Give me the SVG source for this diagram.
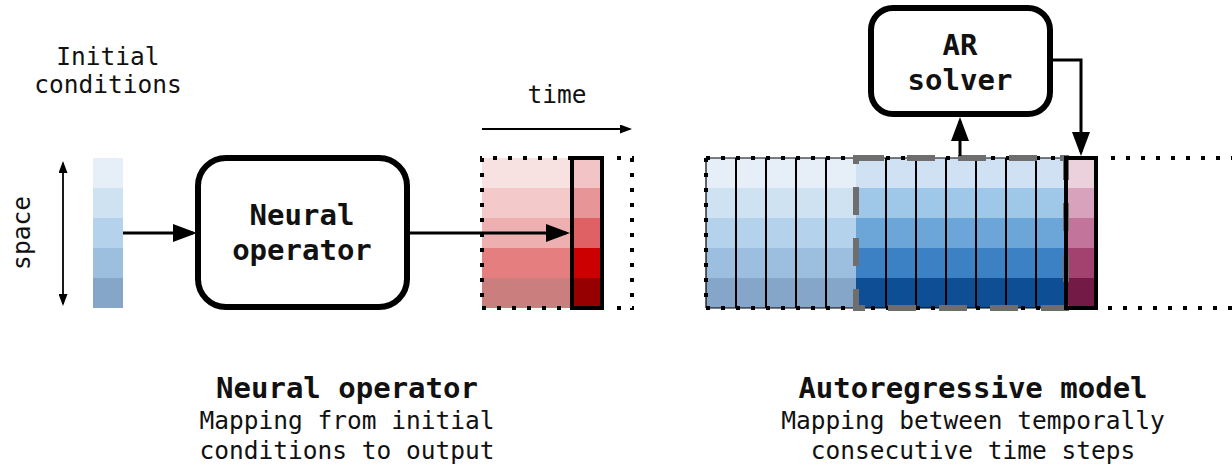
<svg xmlns="http://www.w3.org/2000/svg" width="1232" height="468" viewBox="0 0 1232 468">
  <style>
    text { font-family: "DejaVu Sans Mono", "Liberation Mono", monospace; fill: #111; text-anchor: middle; }
    .lbl { font-size: 24.5px; }
    .bold { font-size: 29px; font-weight: bold; }
    .box { fill: #fff; stroke: #000; stroke-width: 6; }
    .conn { fill: none; stroke: #000; stroke-width: 3; }
    .thin { fill: none; stroke: #000; stroke-width: 1.8; }
    .dots { fill: none; stroke: #000; stroke-width: 4; stroke-dasharray: 4 11; }
    .sep { stroke: #000; stroke-width: 2; }
    .hl { fill: none; stroke: #000; stroke-width: 4; }
    .gdash { fill: none; stroke: #6e6e6e; stroke-width: 6; stroke-dasharray: 28 23; }
    .b1 { fill: #cfe1f2; } .b2 { fill: #9fc7e7; } .b3 { fill: #6ca6d9; } .b4 { fill: #3b81c3; } .b5 { fill: #0e4e95; }
    .r1 { fill: #f3c4c5; } .r2 { fill: #e89597; } .r3 { fill: #df6163; } .r4 { fill: #cc0000; } .r5 { fill: #960000; }
    .p1 { fill: #ead1dc; } .p2 { fill: #d8a2bd; } .p3 { fill: #c2749b; } .p4 { fill: #a3426f; } .p5 { fill: #741a47; }
    .fade { opacity: 0.5; }
  </style>
  <defs>
    <marker id="big" viewBox="0 0 24 18" refX="20" refY="9" markerWidth="24" markerHeight="18" markerUnits="userSpaceOnUse" orient="auto">
      <path d="M0,0 L24,9 L0,18 Z" fill="#000"/>
    </marker>
    <marker id="small" viewBox="0 0 12 9" refX="10" refY="4.5" markerWidth="12" markerHeight="9" markerUnits="userSpaceOnUse" orient="auto-start-reverse">
      <path d="M0,0 L12,4.5 L0,9 Z" fill="#000"/>
    </marker>
    <g id="bcol">
      <rect class="b1" x="0" y="0" width="30" height="30"/>
      <rect class="b2" x="0" y="30" width="30" height="30"/>
      <rect class="b3" x="0" y="60" width="30" height="30"/>
      <rect class="b4" x="0" y="90" width="30" height="30"/>
      <rect class="b5" x="0" y="120" width="30" height="30"/>
    </g>
  </defs>

  <!-- Initial conditions -->
  <g id="initial-conditions">
    <text class="lbl" x="108" y="65">Initial</text>
    <text class="lbl" x="108" y="93">conditions</text>
    <use href="#bcol" x="93" y="158" class="fade"/>
    <text class="lbl" transform="translate(30,233) rotate(-90)">space</text>
  </g>

  <!-- Neural operator node -->
  <g id="neural-operator">
    <rect class="box" x="198" y="158" width="209" height="149" rx="28"/>
    <text class="bold" x="302" y="225">Neural</text>
    <text class="bold" x="302" y="260">operator</text>
  </g>

  <!-- Output (red grid) -->
  <g id="output-grid">
    <text class="lbl" x="557" y="103">time</text>
    <g class="fade">
      <rect class="r1" x="482" y="158" width="90" height="30"/>
      <rect class="r2" x="482" y="188" width="90" height="30"/>
      <rect class="r3" x="482" y="218" width="90" height="30"/>
      <rect class="r4" x="482" y="248" width="90" height="30"/>
      <rect class="r5" x="482" y="278" width="90" height="30"/>
    </g>
    <rect class="r1" x="572" y="158" width="30" height="30"/>
    <rect class="r2" x="572" y="188" width="30" height="30"/>
    <rect class="r3" x="572" y="218" width="30" height="30"/>
    <rect class="r4" x="572" y="248" width="30" height="30"/>
    <rect class="r5" x="572" y="278" width="30" height="30"/>
    <path class="dots" d="M572,158 H480 M482,158 V308 M482,308 H572"/>
    <path class="dots" d="M617,158 H634 M632,158 V310 M617,308 H634"/>
    <rect class="hl" x="572" y="158" width="30" height="150"/>
  </g>

  <!-- Autoregressive grid -->
  <g id="ar-grid">
    <g class="fade">
      <use href="#bcol" x="706" y="158"/>
      <use href="#bcol" x="736" y="158"/>
      <use href="#bcol" x="766" y="158"/>
      <use href="#bcol" x="796" y="158"/>
      <use href="#bcol" x="826" y="158"/>
    </g>
    <use href="#bcol" x="856" y="158"/>
    <use href="#bcol" x="886" y="158"/>
    <use href="#bcol" x="916" y="158"/>
    <use href="#bcol" x="946" y="158"/>
    <use href="#bcol" x="976" y="158"/>
    <use href="#bcol" x="1006" y="158"/>
    <use href="#bcol" x="1036" y="158"/>
    <rect class="p1" x="1066" y="158" width="30" height="30"/>
    <rect class="p2" x="1066" y="188" width="30" height="30"/>
    <rect class="p3" x="1066" y="218" width="30" height="30"/>
    <rect class="p4" x="1066" y="248" width="30" height="30"/>
    <rect class="p5" x="1066" y="278" width="30" height="30"/>
    <path d="M706,158 H1066 M706,308 H1066 M706,158 V308" fill="none" stroke="#000" stroke-width="1.2"/>
    <path class="sep" d="M736,158 V308 M766,158 V308 M796,158 V308 M826,158 V308 M886,158 V308 M916,158 V308 M946,158 V308 M976,158 V308 M1006,158 V308 M1036,158 V308"/>
    <path class="dots" d="M706,158 H1066 M706,158 V308 M706,308 H1066"/>
    <path class="dots" d="M1111,158 H1232 M1108,308 H1232"/>
    <rect class="gdash" x="856" y="158" width="210" height="150"/>
    <rect class="hl" x="1066" y="158" width="30" height="150"/>
  </g>

  <!-- AR solver node -->
  <g id="ar-solver">
    <rect class="box" x="871" y="8" width="179" height="106" rx="22"/>
    <text class="bold" x="960" y="55">AR</text>
    <text class="bold" x="960" y="90">solver</text>
  </g>

  <!-- Connectors -->
  <g id="connectors">
    <line class="thin" x1="63" y1="163" x2="63" y2="304" marker-start="url(#small)" marker-end="url(#small)"/>
    <line class="thin" x1="482" y1="129" x2="630" y2="129" marker-end="url(#small)"/>
    <line class="conn" x1="123" y1="233" x2="193" y2="233" marker-end="url(#big)"/>
    <line class="conn" x1="410" y1="233" x2="566" y2="233" marker-end="url(#big)"/>
    <line class="conn" x1="960" y1="156" x2="960" y2="121" marker-end="url(#big)"/>
    <path class="conn" d="M1053,60 H1081 V152" marker-end="url(#big)"/>
  </g>

  <!-- Captions -->
  <g id="caption-neural-operator">
    <text class="bold" x="347" y="398">Neural operator</text>
    <text class="lbl" x="347" y="429">Mapping from initial</text>
    <text class="lbl" x="347" y="459">conditions to output</text>
  </g>
  <g id="caption-autoregressive">
    <text class="bold" x="973" y="398">Autoregressive model</text>
    <text class="lbl" x="973" y="429">Mapping between temporally</text>
    <text class="lbl" x="973" y="459">consecutive time steps</text>
  </g>
</svg>
